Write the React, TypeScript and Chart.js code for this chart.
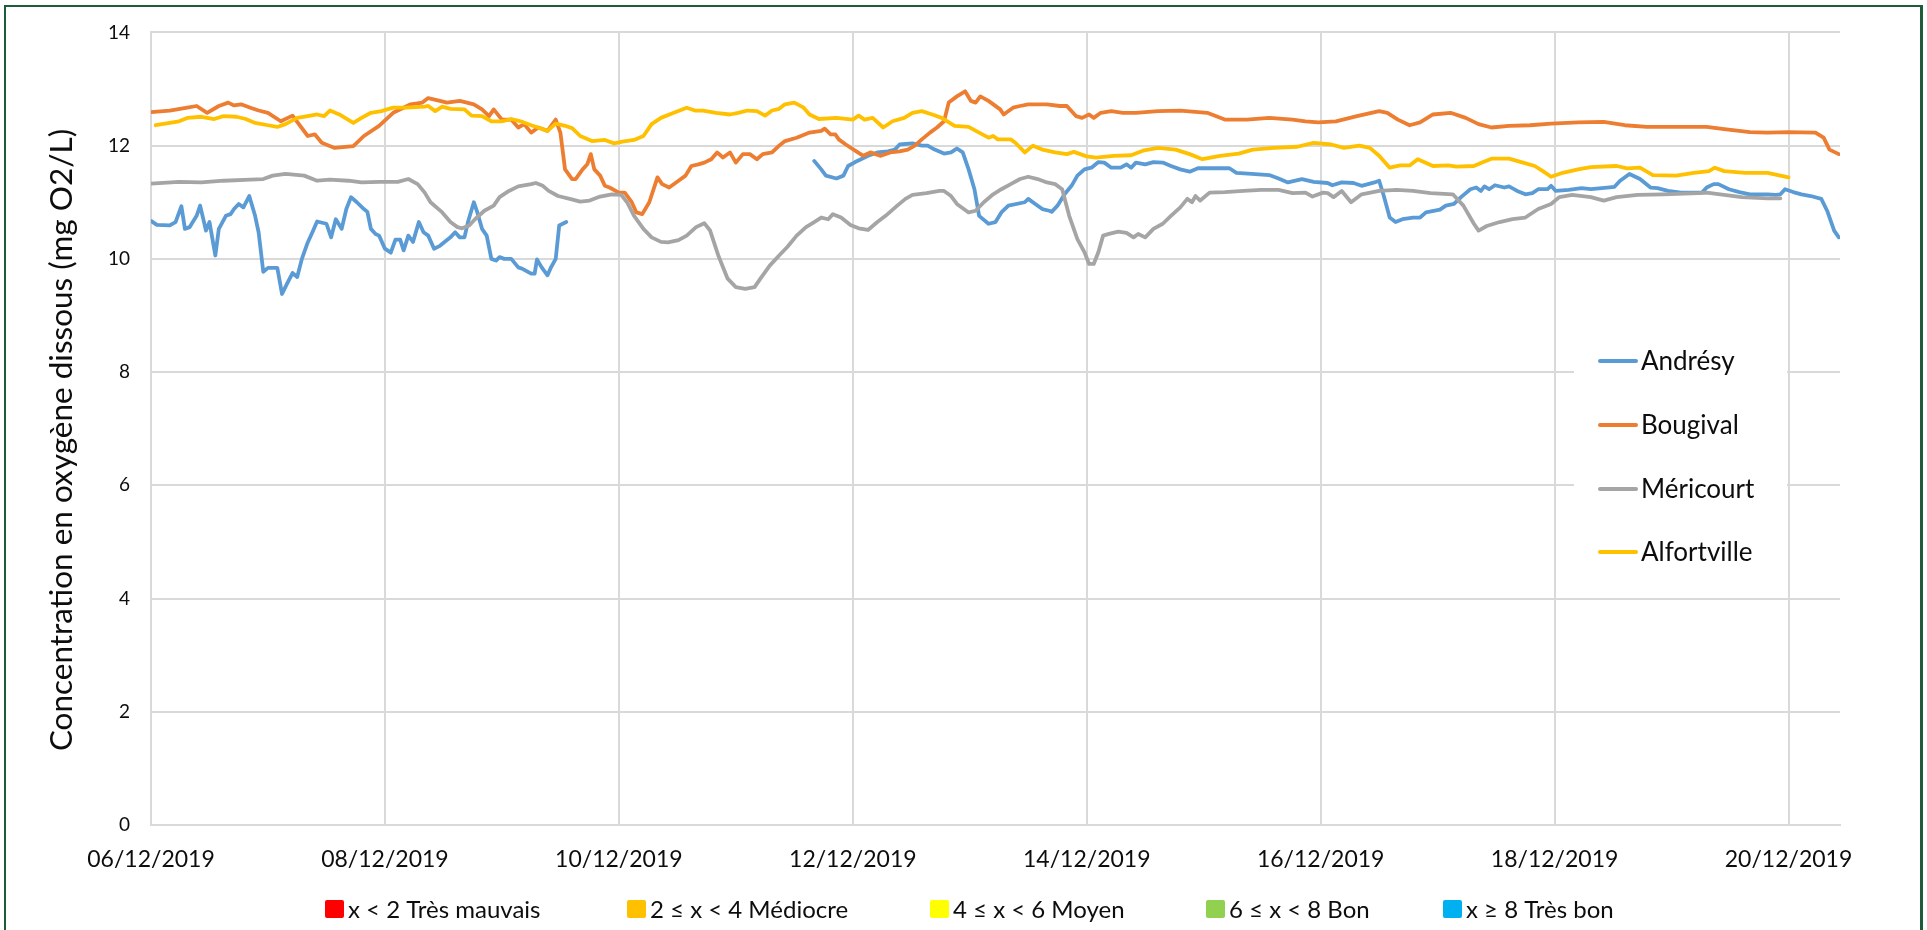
import { useEffect, useRef } from 'react';
import { Chart, registerables } from 'chart.js';

Chart.register(...registerables);

// ---- Data (x = days since 06/12/2019 00:00, y = mg O2/L) ----
const xTickLabels = ['06/12/2019', '08/12/2019', '10/12/2019', '12/12/2019', '14/12/2019', '16/12/2019', '18/12/2019', '20/12/2019'];
const yAxisTitle = 'Concentration en oxygène dissous (mg O2/L)';
const stationNames = ['Andrésy', 'Bougival', 'Méricourt', 'Alfortville'];
const stationColors = ['#5B9BD5', '#ED7D31', '#A5A5A5', '#FFC000'];
const qualityLabels = ['x < 2 Très mauvais', '2 ≤ x < 4 Médiocre', '4 ≤ x < 6 Moyen', '6 ≤ x < 8 Bon', 'x ≥ 8 Très bon'];
const qualityColors = ['#FF0000', '#FFC000', '#FFFF00', '#92D050', '#00B0F0'];

const andresyPart1: [number, number][] = [
  [0, 10.67], [0.05, 10.6], [0.16, 10.59], [0.21, 10.65], [0.26, 10.93], [0.29, 10.53], [0.33, 10.56], [0.39, 10.76],
  [0.42, 10.94], [0.47, 10.5], [0.5, 10.65], [0.55, 10.06], [0.58, 10.53], [0.64, 10.76], [0.68, 10.79], [0.71, 10.88],
  [0.75, 10.97], [0.79, 10.91], [0.84, 11.11], [0.89, 10.76], [0.92, 10.47], [0.96, 9.77], [1.0, 9.84], [1.08, 9.84],
  [1.12, 9.38], [1.17, 9.59], [1.21, 9.75], [1.25, 9.68], [1.29, 10.0], [1.34, 10.29], [1.38, 10.47], [1.42, 10.66],
  [1.5, 10.62], [1.54, 10.38], [1.58, 10.7], [1.63, 10.53], [1.67, 10.88], [1.71, 11.09], [1.76, 11.0], [1.82, 10.88],
  [1.85, 10.83], [1.88, 10.53], [1.92, 10.44], [1.95, 10.41], [2.0, 10.18], [2.05, 10.11], [2.09, 10.34], [2.13, 10.34],
  [2.16, 10.15], [2.2, 10.41], [2.24, 10.3], [2.29, 10.65], [2.33, 10.47], [2.37, 10.41], [2.42, 10.18], [2.47, 10.23],
  [2.56, 10.38], [2.6, 10.47], [2.64, 10.38], [2.68, 10.38], [2.71, 10.65], [2.76, 11.0], [2.79, 10.82], [2.83, 10.53],
  [2.87, 10.41], [2.91, 10.0], [2.95, 9.97], [2.98, 10.03], [3.02, 10.0], [3.08, 10.0], [3.14, 9.85], [3.18, 9.82],
  [3.25, 9.74], [3.28, 9.74], [3.3, 9.99], [3.34, 9.85], [3.39, 9.71], [3.42, 9.85], [3.46, 10.0], [3.49, 10.59], [3.55, 10.65],
];

const andresyPart2: [number, number][] = [
  [5.67, 11.73], [5.73, 11.58], [5.77, 11.47], [5.86, 11.42], [5.92, 11.47], [5.96, 11.64], [6.02, 11.71], [6.07, 11.76],
  [6.13, 11.82], [6.21, 11.88], [6.3, 11.9], [6.36, 11.93], [6.4, 12.02], [6.51, 12.04], [6.59, 12.0], [6.64, 12.0],
  [6.7, 11.93], [6.78, 11.86], [6.84, 11.88], [6.89, 11.95], [6.94, 11.88], [6.99, 11.58], [7.04, 11.23], [7.08, 10.76],
  [7.16, 10.62], [7.22, 10.65], [7.27, 10.82], [7.33, 10.94], [7.47, 11.0], [7.5, 11.06], [7.56, 10.97], [7.62, 10.88],
  [7.68, 10.85], [7.7, 10.83], [7.75, 10.94], [7.81, 11.14], [7.87, 11.29], [7.92, 11.47], [7.98, 11.58], [8.04, 11.61],
  [8.1, 11.71], [8.15, 11.7], [8.21, 11.61], [8.29, 11.61], [8.34, 11.67], [8.38, 11.61], [8.42, 11.7], [8.5, 11.67],
  [8.57, 11.71], [8.65, 11.7], [8.72, 11.64], [8.8, 11.58], [8.88, 11.54], [8.95, 11.6], [9.18, 11.6], [9.22, 11.6],
  [9.28, 11.52], [9.41, 11.5], [9.56, 11.48], [9.64, 11.42], [9.72, 11.35], [9.84, 11.41], [9.94, 11.36], [10.06, 11.34],
  [10.1, 11.3], [10.18, 11.35], [10.28, 11.34], [10.35, 11.29], [10.46, 11.35], [10.5, 11.38], [10.54, 11.11], [10.59, 10.73],
  [10.64, 10.65], [10.7, 10.7], [10.79, 10.73], [10.85, 10.73], [10.9, 10.82], [11.02, 10.87], [11.07, 10.94], [11.14, 10.97],
  [11.2, 11.09], [11.28, 11.23], [11.33, 11.26], [11.37, 11.2], [11.4, 11.28], [11.44, 11.23], [11.49, 11.3], [11.57, 11.26],
  [11.61, 11.28], [11.68, 11.2], [11.75, 11.14], [11.81, 11.16], [11.86, 11.23], [11.94, 11.23], [11.97, 11.29], [12.01, 11.2],
  [12.12, 11.22], [12.23, 11.25], [12.31, 11.23], [12.45, 11.26], [12.51, 11.27], [12.56, 11.38], [12.64, 11.5], [12.73, 11.41],
  [12.82, 11.26], [12.88, 11.25], [12.97, 11.2], [13.08, 11.17], [13.26, 11.17], [13.3, 11.26], [13.36, 11.32], [13.4, 11.32],
  [13.49, 11.23], [13.58, 11.18], [13.67, 11.14], [13.82, 11.14], [13.89, 11.13], [13.93, 11.14], [13.97, 11.23], [14.04, 11.18],
  [14.11, 11.14], [14.19, 11.11], [14.28, 11.06], [14.33, 10.85], [14.39, 10.5], [14.43, 10.38],
];

const bougival: [number, number][] = [
  [0, 12.59], [0.16, 12.62], [0.31, 12.67], [0.39, 12.7], [0.48, 12.58], [0.58, 12.7], [0.66, 12.76], [0.71, 12.71],
  [0.77, 12.73], [0.85, 12.67], [0.92, 12.62], [1.0, 12.58], [1.11, 12.43], [1.21, 12.53], [1.34, 12.17], [1.4, 12.2],
  [1.46, 12.05], [1.57, 11.96], [1.73, 11.99], [1.82, 12.17], [1.95, 12.35], [2.07, 12.58], [2.22, 12.73], [2.32, 12.76],
  [2.37, 12.84], [2.47, 12.79], [2.53, 12.76], [2.64, 12.79], [2.76, 12.73], [2.83, 12.64], [2.89, 12.52], [2.93, 12.64],
  [3.0, 12.46], [3.08, 12.46], [3.14, 12.32], [3.19, 12.38], [3.25, 12.23], [3.31, 12.32], [3.39, 12.26], [3.46, 12.46],
  [3.5, 12.23], [3.54, 11.58], [3.6, 11.41], [3.63, 11.41], [3.69, 11.58], [3.73, 11.67], [3.76, 11.85], [3.79, 11.58],
  [3.84, 11.47], [3.88, 11.29], [3.92, 11.26], [4.0, 11.17], [4.05, 11.17], [4.11, 11.0], [4.15, 10.82], [4.2, 10.79],
  [4.26, 11.0], [4.33, 11.44], [4.37, 11.32], [4.43, 11.26], [4.51, 11.38], [4.57, 11.47], [4.62, 11.64], [4.68, 11.67],
  [4.73, 11.7], [4.79, 11.76], [4.84, 11.88], [4.89, 11.79], [4.95, 11.88], [5.0, 11.7], [5.06, 11.85], [5.12, 11.85],
  [5.18, 11.76], [5.23, 11.85], [5.31, 11.88], [5.37, 12.0], [5.42, 12.08], [5.52, 12.14], [5.63, 12.23], [5.73, 12.26],
  [5.76, 12.3], [5.81, 12.2], [5.85, 12.2], [5.88, 12.11], [5.94, 12.02], [6.03, 11.9], [6.09, 11.82], [6.15, 11.88],
  [6.24, 11.82], [6.32, 11.88], [6.4, 11.9], [6.47, 11.93], [6.53, 12.0], [6.59, 12.11], [6.66, 12.23], [6.72, 12.32],
  [6.78, 12.43], [6.82, 12.76], [6.89, 12.87], [6.96, 12.96], [7.01, 12.79], [7.05, 12.76], [7.09, 12.87], [7.16, 12.79],
  [7.26, 12.64], [7.29, 12.55], [7.37, 12.67], [7.43, 12.7], [7.5, 12.73], [7.66, 12.73], [7.77, 12.7], [7.83, 12.7],
  [7.91, 12.52], [7.96, 12.49], [8.02, 12.55], [8.06, 12.49], [8.12, 12.58], [8.21, 12.61], [8.31, 12.58], [8.42, 12.58],
  [8.61, 12.61], [8.8, 12.62], [9.03, 12.58], [9.18, 12.46], [9.37, 12.46], [9.56, 12.49], [9.76, 12.46], [9.87, 12.43],
  [9.98, 12.41], [10.13, 12.43], [10.31, 12.52], [10.5, 12.61], [10.57, 12.58], [10.66, 12.46], [10.76, 12.36], [10.85, 12.41],
  [10.96, 12.55], [11.11, 12.58], [11.24, 12.49], [11.35, 12.38], [11.46, 12.32], [11.61, 12.35], [11.79, 12.36], [11.97, 12.39],
  [12.2, 12.41], [12.42, 12.42], [12.6, 12.36], [12.79, 12.33], [13.08, 12.33], [13.3, 12.33], [13.45, 12.29], [13.67, 12.24],
  [13.82, 12.23], [14.0, 12.24], [14.23, 12.23], [14.3, 12.14], [14.35, 11.93], [14.43, 11.85],
];

const mericourt: [number, number][] = [
  [0, 11.33], [0.24, 11.36], [0.43, 11.35], [0.62, 11.38], [0.85, 11.4], [0.96, 11.41], [1.04, 11.47], [1.15, 11.5],
  [1.31, 11.47], [1.42, 11.38], [1.53, 11.4], [1.69, 11.38], [1.8, 11.35], [1.95, 11.36], [2.11, 11.36], [2.2, 11.41],
  [2.28, 11.32], [2.34, 11.17], [2.39, 11.0], [2.49, 10.82], [2.56, 10.65], [2.62, 10.56], [2.66, 10.54], [2.72, 10.59],
  [2.77, 10.7], [2.85, 10.85], [2.93, 10.94], [2.98, 11.09], [3.06, 11.2], [3.14, 11.28], [3.25, 11.32], [3.29, 11.34],
  [3.35, 11.29], [3.4, 11.2], [3.48, 11.11], [3.58, 11.06], [3.67, 11.01], [3.75, 11.03], [3.84, 11.1], [3.94, 11.14],
  [4.02, 11.13], [4.07, 11.0], [4.13, 10.76], [4.21, 10.53], [4.28, 10.38], [4.36, 10.3], [4.42, 10.29], [4.51, 10.33],
  [4.58, 10.41], [4.66, 10.56], [4.73, 10.63], [4.78, 10.5], [4.85, 10.06], [4.93, 9.65], [5.0, 9.5], [5.08, 9.47],
  [5.16, 9.5], [5.21, 9.65], [5.29, 9.88], [5.37, 10.06], [5.44, 10.21], [5.52, 10.41], [5.6, 10.56], [5.67, 10.65],
  [5.73, 10.73], [5.79, 10.7], [5.83, 10.79], [5.9, 10.73], [5.98, 10.6], [6.05, 10.54], [6.13, 10.51], [6.21, 10.65],
  [6.28, 10.76], [6.38, 10.94], [6.45, 11.06], [6.51, 11.13], [6.63, 11.16], [6.74, 11.2], [6.78, 11.2], [6.84, 11.11],
  [6.89, 10.97], [6.99, 10.82], [7.05, 10.85], [7.12, 11.0], [7.2, 11.14], [7.27, 11.23], [7.35, 11.32], [7.43, 11.41],
  [7.5, 11.45], [7.58, 11.41], [7.66, 11.35], [7.73, 11.32], [7.79, 11.23], [7.85, 10.76], [7.92, 10.35], [7.98, 10.12],
  [8.02, 9.91], [8.06, 9.91], [8.1, 10.12], [8.14, 10.41], [8.19, 10.44], [8.27, 10.48], [8.34, 10.46], [8.4, 10.38],
  [8.44, 10.44], [8.5, 10.38], [8.57, 10.53], [8.65, 10.62], [8.72, 10.76], [8.8, 10.91], [8.86, 11.06], [8.9, 11.0],
  [8.93, 11.11], [8.97, 11.03], [9.05, 11.17], [9.18, 11.18], [9.34, 11.2], [9.49, 11.22], [9.64, 11.22], [9.76, 11.16],
  [9.87, 11.17], [9.93, 11.1], [10.02, 11.17], [10.06, 11.16], [10.11, 11.09], [10.18, 11.2], [10.26, 11.0], [10.35, 11.14],
  [10.5, 11.2], [10.65, 11.22], [10.79, 11.2], [10.94, 11.16], [11.13, 11.14], [11.22, 10.94], [11.31, 10.62], [11.35, 10.5],
  [11.42, 10.58], [11.53, 10.65], [11.64, 10.7], [11.75, 10.73], [11.86, 10.88], [11.97, 10.97], [12.04, 11.09], [12.15, 11.13],
  [12.31, 11.09], [12.42, 11.03], [12.53, 11.09], [12.71, 11.13], [12.93, 11.14], [13.23, 11.16], [13.3, 11.17], [13.45, 11.13],
  [13.6, 11.09], [13.82, 11.07], [13.93, 11.07],
];

const alfortville: [number, number][] = [
  [0.04, 12.36], [0.16, 12.4], [0.24, 12.43], [0.31, 12.49], [0.43, 12.51], [0.54, 12.47], [0.62, 12.52], [0.73, 12.51],
  [0.81, 12.47], [0.89, 12.4], [1.0, 12.36], [1.08, 12.33], [1.15, 12.38], [1.25, 12.49], [1.34, 12.52], [1.42, 12.55],
  [1.48, 12.52], [1.53, 12.62], [1.61, 12.55], [1.73, 12.4], [1.8, 12.49], [1.88, 12.58], [1.97, 12.61], [2.07, 12.67],
  [2.18, 12.67], [2.34, 12.69], [2.37, 12.7], [2.43, 12.61], [2.49, 12.69], [2.56, 12.65], [2.68, 12.64], [2.74, 12.53],
  [2.83, 12.52], [2.91, 12.43], [3.0, 12.43], [3.08, 12.47], [3.16, 12.43], [3.25, 12.36], [3.31, 12.32], [3.39, 12.26],
  [3.46, 12.39], [3.54, 12.35], [3.6, 12.31], [3.67, 12.17], [3.77, 12.08], [3.88, 12.1], [3.96, 12.04], [4.03, 12.07],
  [4.13, 12.1], [4.21, 12.17], [4.28, 12.38], [4.36, 12.49], [4.47, 12.58], [4.58, 12.67], [4.65, 12.62], [4.72, 12.62],
  [4.83, 12.58], [4.95, 12.55], [5.02, 12.58], [5.1, 12.62], [5.18, 12.61], [5.25, 12.53], [5.31, 12.62], [5.37, 12.65],
  [5.42, 12.73], [5.5, 12.76], [5.58, 12.67], [5.63, 12.55], [5.71, 12.47], [5.86, 12.49], [6.0, 12.46], [6.05, 12.53],
  [6.1, 12.46], [6.17, 12.49], [6.26, 12.32], [6.34, 12.43], [6.44, 12.49], [6.51, 12.58], [6.59, 12.61], [6.68, 12.55],
  [6.76, 12.49], [6.87, 12.35], [6.99, 12.33], [7.08, 12.23], [7.16, 12.14], [7.2, 12.17], [7.24, 12.11], [7.35, 12.11],
  [7.39, 12.05], [7.47, 11.88], [7.54, 12.0], [7.62, 11.93], [7.73, 11.88], [7.83, 11.85], [7.89, 11.89], [8.0, 11.81],
  [8.08, 11.79], [8.23, 11.82], [8.38, 11.83], [8.48, 11.91], [8.61, 11.96], [8.76, 11.93], [8.88, 11.85], [8.99, 11.76],
  [9.14, 11.82], [9.3, 11.86], [9.42, 11.93], [9.6, 11.96], [9.8, 11.98], [9.94, 12.05], [10.09, 12.02], [10.2, 11.96],
  [10.33, 12.0], [10.42, 11.96], [10.5, 11.82], [10.59, 11.61], [10.68, 11.65], [10.76, 11.65], [10.83, 11.76], [10.96, 11.64],
  [11.09, 11.65], [11.16, 11.63], [11.31, 11.64], [11.38, 11.7], [11.46, 11.77], [11.61, 11.77], [11.73, 11.7], [11.83, 11.64],
  [11.9, 11.55], [11.97, 11.45], [12.07, 11.52], [12.2, 11.58], [12.31, 11.62], [12.53, 11.64], [12.62, 11.6], [12.73, 11.61],
  [12.84, 11.48], [13.04, 11.47], [13.19, 11.52], [13.32, 11.55], [13.37, 11.61], [13.45, 11.55], [13.63, 11.52], [13.82, 11.52],
  [13.93, 11.47], [14.0, 11.44],
];

const X_MAX_DAYS = 14.44;
const FONT = 'Lato, Carlito, Calibri, "Noto Sans", sans-serif';

const toPoints = (arr: [number, number][]) => arr.map(([x, y]) => ({ x, y }));

const yTitlePlugin = {
  id: 'yTitleCustom',
  afterDraw(chart: any) {
    const ctx = chart.ctx;
    ctx.save();
    ctx.translate(62, 440);
    ctx.rotate(-Math.PI / 2);
    ctx.font = `31.5px ${FONT}`;
    ctx.fillStyle = '#0d0d0d';
    ctx.textAlign = 'center';
    ctx.textBaseline = 'middle';
    ctx.fillText(yAxisTitle, 0, 0);
    ctx.restore();
  },
};

const stationLegendPlugin = {
  id: 'stationLegend',
  afterDraw(chart: any) {
    const ctx = chart.ctx;
    ctx.save();
    ctx.fillStyle = '#ffffff';
    ctx.fillRect(1574, 330, 213, 255);
    const rows = [361, 425, 489, 552];
    stationNames.forEach((name, i) => {
      const y = rows[i];
      ctx.strokeStyle = stationColors[i];
      ctx.lineWidth = 4;
      ctx.lineCap = 'round';
      ctx.beginPath();
      ctx.moveTo(1600, y);
      ctx.lineTo(1636, y);
      ctx.stroke();
      ctx.font = `26px ${FONT}`;
      ctx.fillStyle = '#0d0d0d';
      ctx.textAlign = 'left';
      ctx.textBaseline = 'middle';
      ctx.fillText(name, 1641, y + 1);
    });
    ctx.restore();
  },
};

const qualityLegendPlugin = {
  id: 'qualityLegend',
  afterDraw(chart: any) {
    const ctx = chart.ctx;
    ctx.save();
    ctx.font = `24px ${FONT}`;
    const box = 19;
    const itemLeft = [325, 627, 930, 1206, 1443];
    const yc = 909;
    qualityLabels.forEach((label, i) => {
      const x = itemLeft[i];
      ctx.fillStyle = qualityColors[i];
      ctx.beginPath();
      if (ctx.roundRect) ctx.roundRect(x, yc - 9, box, 18, 2);
      else ctx.rect(x, yc - 9, box, 18);
      ctx.fill();
      ctx.fillStyle = '#0d0d0d';
      ctx.textAlign = 'left';
      ctx.textBaseline = 'middle';
      ctx.fillText(label, x + box + 4, yc + 1);
    });
    ctx.restore();
  },
};

export default function App() {
  const canvasRef = useRef<HTMLCanvasElement | null>(null);

  useEffect(() => {
    const canvas = canvasRef.current;
    if (!canvas) return;
    const series = [
      [...toPoints(andresyPart1), { x: 4.6, y: null }, ...toPoints(andresyPart2)],
      toPoints(bougival),
      toPoints(mericourt),
      toPoints(alfortville),
    ];
    const chart = new Chart(canvas, {
      type: 'line',
      data: {
        datasets: series.map((data, i) => ({
          label: stationNames[i],
          data: data as any,
          borderColor: stationColors[i],
          backgroundColor: stationColors[i],
          borderWidth: 3.8,
          pointRadius: 0,
          pointHoverRadius: 0,
          tension: 0,
          fill: false,
          spanGaps: false,
          borderJoinStyle: 'round' as const,
          borderCapStyle: 'round' as const,
          order: 3 - i,
        })),
      },
      options: {
        animation: false,
        responsive: false,
        devicePixelRatio: 1,
        parsing: true,
        layout: { padding: { top: 29, right: 87, bottom: 0, left: 0 } },
        plugins: {
          legend: { display: false },
          tooltip: { enabled: false },
          title: { display: false },
        },
        scales: {
          x: {
            type: 'linear',
            min: 0,
            max: X_MAX_DAYS,
            afterFit: (s: any) => { s.height = 105; },
            ticks: {
              stepSize: 2,
              includeBounds: false,
              autoSkip: false,
              maxRotation: 0,
              minRotation: 0,
              padding: 21,
              color: '#0d0d0d',
              font: { family: FONT, size: 23 },
              callback: (_v: any, idx: number) => xTickLabels[idx] ?? '',
            },
            grid: { color: '#d9d9d9', lineWidth: 2, drawTicks: false },
            border: { display: true, color: '#d9d9d9', width: 2 },
          },
          y: {
            type: 'linear',
            min: 0,
            max: 14,
            afterFit: (s: any) => { s.width = 151; },
            ticks: {
              stepSize: 2,
              padding: 21,
              color: '#0d0d0d',
              font: { family: FONT, size: 19 },
            },
            grid: { color: '#d9d9d9', lineWidth: 2, drawTicks: false },
            border: { display: true, color: '#d9d9d9', width: 2 },
          },
        },
      },
      plugins: [yTitlePlugin, stationLegendPlugin, qualityLegendPlugin],
    });
    return () => chart.destroy();
  }, []);

  return (
    <div style={{ position: 'absolute', left: 0, top: 0, width: 1927, height: 930, background: '#ffffff', overflow: 'hidden' }}>
      <canvas ref={canvasRef} width={1927} height={930} style={{ display: 'block', width: 1927, height: 930 }} />
      <div
        style={{
          position: 'absolute',
          left: 4,
          top: 5,
          width: 1914,
          height: 925,
          borderTop: '2px solid #1d5b3a',
          borderLeft: '2px solid #1d5b3a',
          borderRight: '3px solid #1d5b3a',
          pointerEvents: 'none',
          boxSizing: 'content-box',
        }}
      />
    </div>
  );
}
